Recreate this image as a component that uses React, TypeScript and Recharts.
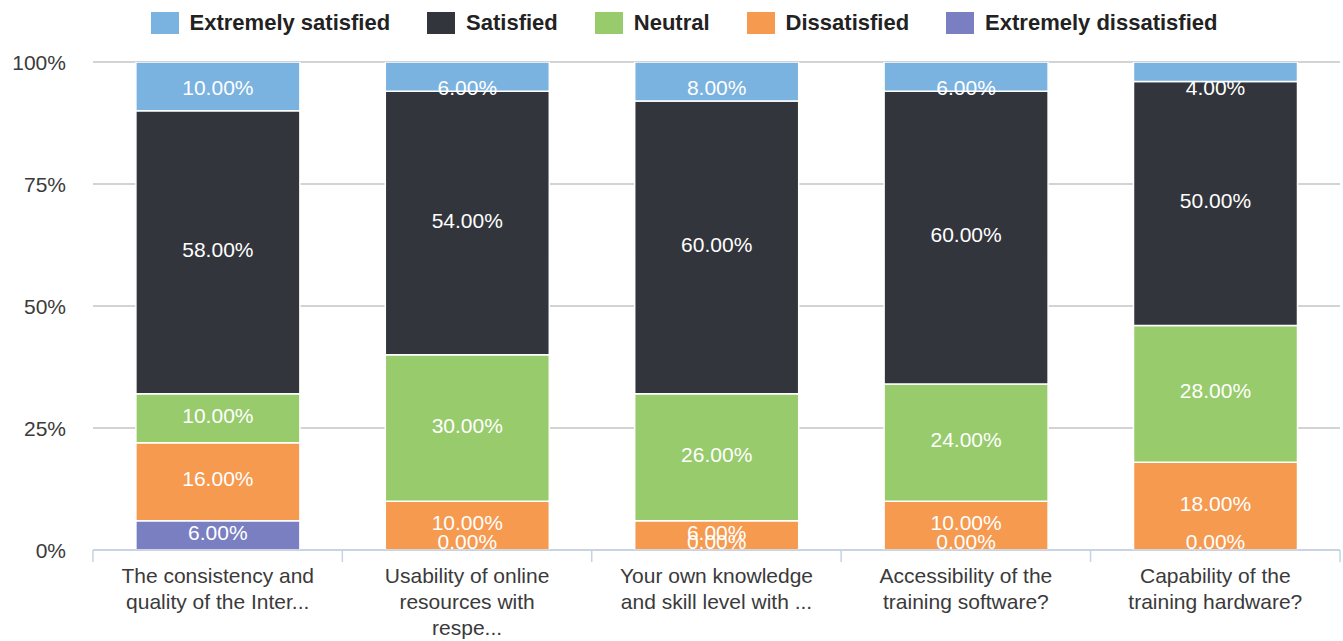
import React from 'react';
import { BarChart, Bar, XAxis, YAxis, CartesianGrid, Legend, LabelList } from 'recharts';

const categories = [
  'The consistency and|quality of the Inter...',
  'Usability of online|resources with|respe...',
  'Your own knowledge|and skill level with ...',
  'Accessibility of the|training software?',
  'Capability of the|training hardware?',
];
const extremelySatisfied = [10, 6, 8, 6, 4];
const satisfied = [58, 54, 60, 60, 50];
const neutral = [10, 30, 26, 24, 28];
const dissatisfied = [16, 10, 6, 10, 18];
const extremelyDissatisfied = [6, 0, 0, 0, 0];
const yTicks = [0, 25, 50, 75, 100];

const series = [
  { key: 'ed', name: 'Extremely dissatisfied', color: '#7a7fc2', values: extremelyDissatisfied },
  { key: 'd', name: 'Dissatisfied', color: '#f59a4f', values: dissatisfied },
  { key: 'n', name: 'Neutral', color: '#97cb6c', values: neutral },
  { key: 's', name: 'Satisfied', color: '#33353c', values: satisfied },
  { key: 'es', name: 'Extremely satisfied', color: '#7ab2e0', values: extremelySatisfied },
];

const data = categories.map((c, i) => {
  const row: any = { name: c };
  series.forEach((s) => (row[s.key] = s.values[i]));
  return row;
});

const FONT = 'Liberation Sans, Arial, sans-serif';
const LEGEND_H = 26;

const makeLabel = (key: string) => (props: any) => {
  const { x, y, width, height, index } = props;
  const s = series.find((q) => q.key === key)!;
  const value = s.values[index];
  if (x == null || y == null) return null;
  let cy = y + (height || 0) / 2 - 3;
  if (cy < 87) cy = 87;
  if (cy > 541) cy = 541;
  return (
    <text
      x={x + width / 2}
      y={cy}
      fill="#ffffff"
      fontSize={21}
      fontFamily={FONT}
      textAnchor="middle"
      dominantBaseline="central"
    >
      {Number(value).toFixed(2)}%
    </text>
  );
};

const XTick = (props: any) => {
  const { x, y, payload, index } = props;
  const band = 249.5;
  const lines = String(payload.value).split('|');
  return (
    <g>
      <line x1={x - band / 2} x2={x - band / 2} y1={y - 8} y2={y + 4} stroke="#c6d3e6" strokeWidth={1.5} />
      {index === categories.length - 1 && (
        <line x1={x + band / 2} x2={x + band / 2} y1={y - 8} y2={y + 4} stroke="#c6d3e6" strokeWidth={1.5} />
      )}
      {lines.map((l, i) => (
        <text
          key={i}
          x={x}
          y={y + 17 + i * 26}
          textAnchor="middle"
          dominantBaseline="central"
          fill="#3a3a3a"
          fontSize={21}
          fontFamily={FONT}
        >
          {l}
        </text>
      ))}
    </g>
  );
};

const YTick = (props: any) => {
  const { y, payload } = props;
  return (
    <text x={66} y={y} textAnchor="end" dominantBaseline="central" fill="#3a3a3a" fontSize={21} fontFamily={FONT}>
      {payload.value}%
    </text>
  );
};

const legendOrder = ['es', 's', 'n', 'd', 'ed'];

const LegendContent = () => (
  <div
    style={{
      display: 'flex',
      justifyContent: 'center',
      alignItems: 'center',
      gap: 37,
      paddingLeft: 25,
      height: LEGEND_H,
      fontFamily: FONT,
      fontWeight: 'bold',
      fontSize: 22,
      color: '#222',
    }}
  >
    {legendOrder.map((k) => {
      const s = series.find((x) => x.key === k)!;
      return (
        <div key={k} style={{ display: 'flex', alignItems: 'center' }}>
          <div style={{ width: 28, height: 22, background: s.color, marginRight: 11 }} />
          <span>{s.name}</span>
        </div>
      );
    })}
  </div>
);

const EmptyLegend = () => <div style={{ height: LEGEND_H }} />;

function Chart({ overlay }: { overlay: boolean }) {
  return (
    <BarChart
      width={1343}
      height={641}
      data={data}
      margin={{ top: 62 - LEGEND_H, right: 3, bottom: 0, left: 0 }}
      barCategoryGap="17.2%"
    >
      {!overlay && <CartesianGrid vertical={false} stroke="#c4c4c4" strokeWidth={1.5} />}
      <XAxis
        dataKey="name"
        height={91}
        interval={0}
        tick={overlay ? false : <XTick />}
        tickLine={false}
        axisLine={overlay ? false : { stroke: '#c6d3e6', strokeWidth: 1.5 }}
      />
      <YAxis
        width={93}
        domain={[0, 100]}
        ticks={yTicks}
        tick={overlay ? false : <YTick />}
        tickLine={false}
        axisLine={false}
        allowDataOverflow
      />
      <Legend
        verticalAlign="top"
        height={LEGEND_H}
        content={overlay ? <EmptyLegend /> : <LegendContent />}
        wrapperStyle={{ position: 'absolute', top: 10, left: 0, width: 1343 }}
      />
      {series.map((s) => (
        <Bar
          key={s.key}
          dataKey={s.key}
          name={s.name}
          stackId="a"
          fill={overlay ? 'transparent' : s.color}
          stroke={overlay ? 'none' : '#ffffff'}
          strokeWidth={1.5}
          minPointSize={overlay ? 1 : 0}
          isAnimationActive={false}
        >
          {overlay && <LabelList dataKey={s.key} content={makeLabel(s.key)} />}
        </Bar>
      ))}
    </BarChart>
  );
}

export default function App() {
  return (
    <div style={{ position: 'absolute', left: 0, top: 0, width: 1343, height: 641, background: '#fff' }}>
      <div style={{ position: 'absolute', left: 0, top: 0 }}>
        <Chart overlay={false} />
      </div>
      <div style={{ position: 'absolute', left: 0, top: 0, pointerEvents: 'none' }}>
        <Chart overlay={true} />
      </div>
    </div>
  );
}
